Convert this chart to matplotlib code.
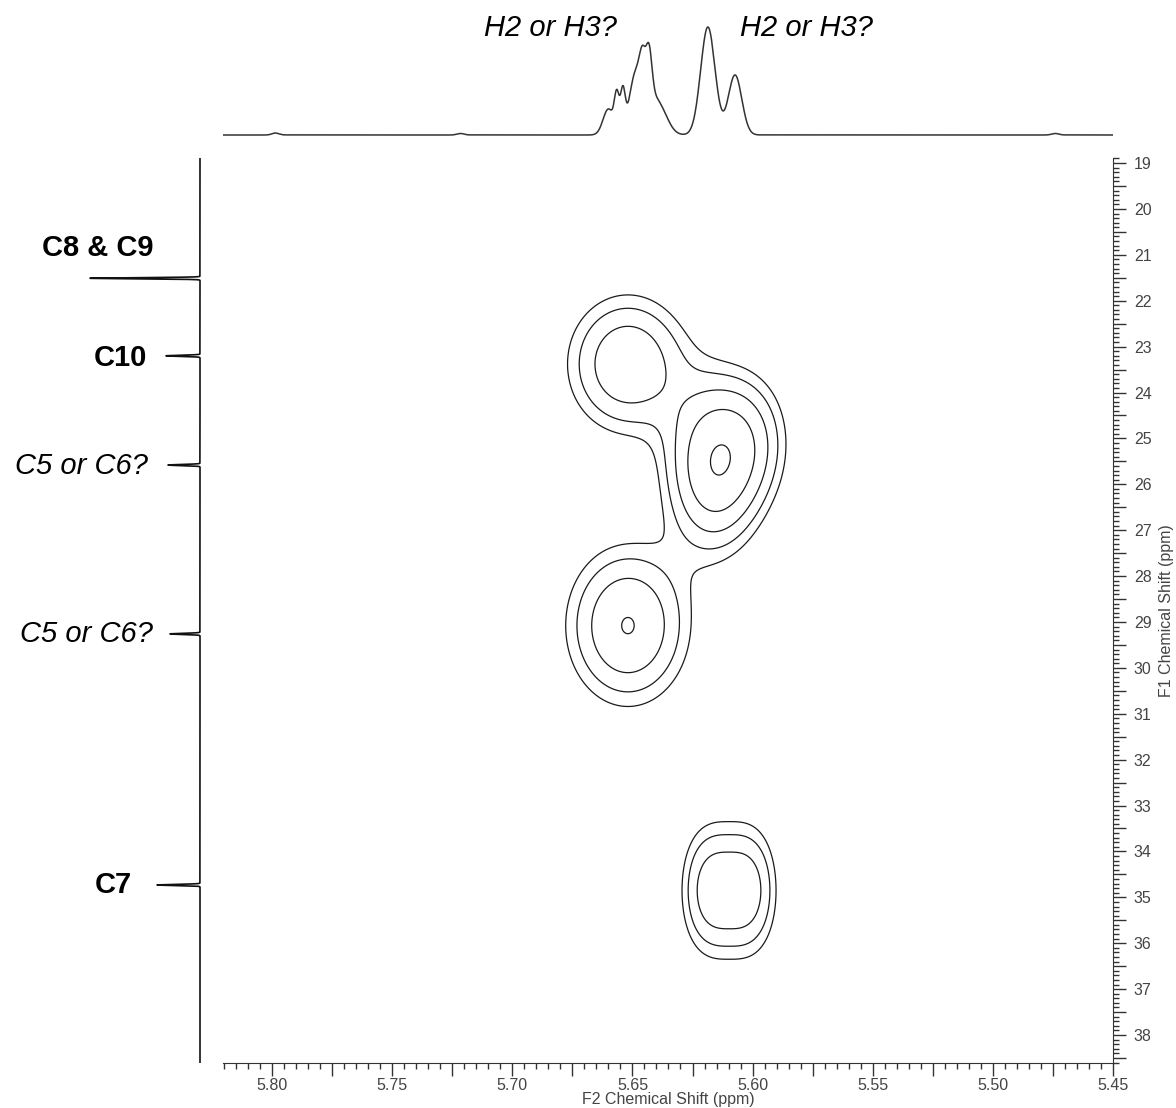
import numpy as np
import matplotlib.pyplot as plt
from matplotlib.ticker import MultipleLocator, FuncFormatter

plt.rcParams['font.family'] = ['Liberation Sans', 'DejaVu Sans']

# 1H projection (top): centre ppm, height, width
h_ppm = [5.6600, 5.6565, 5.6540, 5.6490, 5.6458, 5.6431, 5.6445, 5.6390, 5.6186, 5.6073,
         5.7985, 5.7215, 5.4740]
h_height = [26, 36, 40, 52, 30, 43, 32, 28, 108, 60, 2, 1.5, 1.5]
h_width = [0.0022, 0.0010, 0.0010, 0.0025, 0.0012, 0.0012, 0.0030, 0.0035, 0.0030, 0.0028,
           0.0015, 0.0015, 0.0015]

# 13C projection (left): centre ppm, height
c_ppm = [21.51, 23.20, 25.58, 29.26, 34.73]
c_height = [1.10, 0.34, 0.32, 0.30, 0.43]

# 2D cross peaks: H ppm, C ppm, height, H width, C width, H shape exponent
cross_h = [5.6519, 5.6165, 5.6011, 5.6519, 5.6098]
cross_c = [23.38, 25.62, 25.03, 29.08, 34.85]
cross_amp = [3.13, 4.35, 1.80, 3.36, 3.20]
cross_wh = [0.0235, 0.0178, 0.0165, 0.0235, 0.0186]
cross_wc = [1.41, 1.64, 1.39, 1.60, 1.39]
cross_ph = [2, 2, 2, 2, 3]
contour_levels = [1.0, 1.49, 2.23, 3.32, 4.95]

# labels
h_labels = ['H2 or H3?', 'H2 or H3?']
c_labels = ['C8 & C9', 'C10', 'C5 or C6?', 'C5 or C6?', 'C7']
c_label_bold = [True, True, False, False, True]

XLIM = (5.8204, 5.45)
YLIM = (38.61, 18.89)

W, H = 1176, 1108


def px_box(x0, y0, x1, y1):
    return [x0 / W, 1 - y1 / H, (x1 - x0) / W, (y1 - y0) / H]


fig = plt.figure(figsize=(W / 100, H / 100), dpi=100)
ax = fig.add_axes(px_box(223, 158, 1113, 1063))
ax_top = fig.add_axes(px_box(223, 10, 1113, 140))
ax_left = fig.add_axes(px_box(0, 158, 210, 1063))

# 2D contours
xs = np.linspace(XLIM[1], XLIM[0], 700)
ys = np.linspace(YLIM[1], YLIM[0], 900)
X, Y = np.meshgrid(xs, ys)
Z = np.zeros_like(X)
for hc, cc, a, wh, wc, ph in zip(cross_h, cross_c, cross_amp, cross_wh, cross_wc, cross_ph):
    Z += a * np.exp(-(np.abs((X - hc) / wh) ** ph + ((Y - cc) / wc) ** 2))
ax.contour(X, Y, Z, levels=contour_levels, colors='#1a1a1a', linewidths=0.9)

ax.set_xlim(*XLIM)
ax.set_ylim(*YLIM)
for s in ['left', 'top']:
    ax.spines[s].set_visible(False)
for s in ['bottom', 'right']:
    ax.spines[s].set_color('#333333')
ax.yaxis.tick_right()
ax.yaxis.set_label_position('right')
ax.xaxis.set_major_locator(MultipleLocator(0.025))
ax.xaxis.set_minor_locator(MultipleLocator(0.005))
ax.yaxis.set_major_locator(MultipleLocator(0.5))
ax.yaxis.set_minor_locator(MultipleLocator(0.1))
ax.xaxis.set_major_formatter(FuncFormatter(
    lambda v, p: f'{v:.2f}' if abs(v * 20 - round(v * 20)) < 1e-6 else ''))
ax.yaxis.set_major_formatter(FuncFormatter(
    lambda v, p: f'{v:.0f}' if abs(v - round(v)) < 1e-6 else ''))
ax.tick_params(which='major', length=9, width=1, color='#333333', labelsize=11.5,
               labelcolor='#444444')
ax.tick_params(which='minor', length=4.5, width=1, color='#333333')
ax.tick_params(axis='x', which='major', pad=2)
ax.tick_params(axis='y', which='major', pad=6)
ax.set_xlabel('F2 Chemical Shift (ppm)', fontsize=11.5, color='#444444', labelpad=-1)
ax.set_ylabel('F1 Chemical Shift (ppm)', fontsize=11.5, color='#444444', labelpad=5)

# top 1H trace
hx = np.linspace(XLIM[1], XLIM[0], 4000)
hy = np.zeros_like(hx)
for p, a, w in zip(h_ppm, h_height, h_width):
    hy += a * np.exp(-(hx - p) ** 2 / (2 * w ** 2))
ax_top.plot(hx, hy, color='#333333', lw=1.1)
ax_top.set_xlim(*XLIM)
ax_top.set_ylim(-5, 125)
ax_top.axis('off')

# left 13C trace
cy = np.linspace(YLIM[1], YLIM[0], 40000)
cx = np.zeros_like(cy)
for p, a in zip(c_ppm, c_height):
    cx += a * np.exp(-(cy - p) ** 2 / (2 * 0.012 ** 2))
ax_left.plot(cx, cy, color='#111111', lw=1.2)
ax_left.set_xlim(2.0, -0.1)
ax_left.set_ylim(*YLIM)
ax_left.axis('off')

# annotation labels
h_label_pos = [(617, 28), (740, 28)]
h_label_ha = ['right', 'left']
for (x, y), t, ha in zip(h_label_pos, h_labels, h_label_ha):
    fig.text(x / W, 1 - y / H, t, fontsize=21, style='italic', ha=ha, va='center')

c_label_pos = [(154, 248), (147, 358), (148, 466), (153, 634), (132, 885)]
for (x, y), t, b in zip(c_label_pos, c_labels, c_label_bold):
    fig.text(x / W, 1 - y / H, t, fontsize=21, ha='right', va='center',
             fontweight='bold' if b else 'normal', style='normal' if b else 'italic')

fig.savefig('out.png', dpi=100)
